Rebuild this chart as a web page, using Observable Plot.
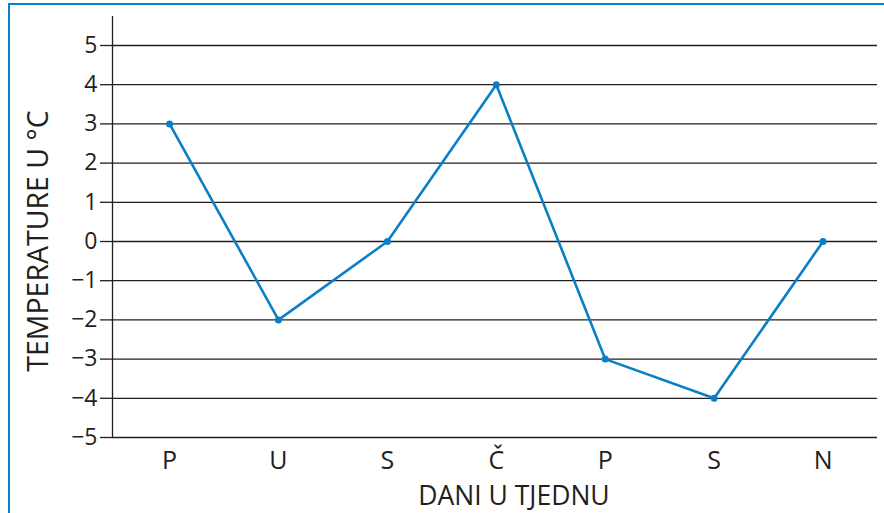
<!DOCTYPE html>
<html><head><meta charset="utf-8">
<script src="https://cdn.jsdelivr.net/npm/d3@7"></script>
<script src="https://cdn.jsdelivr.net/npm/@observablehq/plot@0.6"></script>
<style>
html,body{margin:0;padding:0;background:#fff;}
#wrap{position:relative;width:884px;height:513px;overflow:hidden;}
#border{position:absolute;left:8px;top:3px;right:-10px;bottom:-10px;border-top:2px solid #0a7fc8;border-left:2px solid #0a7fc8;pointer-events:none;}
</style></head>
<body><div id="wrap"><div id="border"></div></div>
<script>
const days = ["P","U","S","Č","P","S","N"];
const temps = [3,-2,0,4,-3,-4,0];
const yTicks = [-5,-4,-3,-2,-1,0,1,2,3,4,5];
const xTitle = "DANI U TJEDNU";
const yTitle = "TEMPERATURE U °C";

const data = days.map((d,i)=>({i, day:d, t:temps[i]}));
const xDomain = [-0.524, 6.5];
const yDomain = [-5, 5.74];
const lineColor = "#0a7fc8";
const ink = "#231f20";

const chart = Plot.plot({
  width: 884, height: 513,
  marginLeft: 112, marginRight: 7, marginTop: 16, marginBottom: 76,
  style: {fontFamily: "'Open Sans', sans-serif", fontSize: "20px", color: ink, background: "transparent"},
  x: {domain: xDomain},
  y: {domain: yDomain},
  marks: [
    Plot.gridY(yTicks, {stroke: ink, strokeOpacity: 1, strokeWidth: 1.3}),
    Plot.axisY(yTicks, {tickSize: 12, tickPadding: 3, fontSize: 23, stroke: ink, strokeWidth: 1.3,
      tickFormat: d => d < 0 ? "\u2212" + Math.abs(d) : String(d), label: null}),
    Plot.ruleX([xDomain[0]], {stroke: ink, strokeWidth: 1.3}),
    Plot.axisX(d3.range(days.length), {tickSize: 0, tickPadding: 14, fontSize: 25,
      tickFormat: i => days[i], label: null}),
    Plot.text([yTitle], {frameAnchor: "left", textAnchor: "middle", lineAnchor: "middle", dx: -74, dy: 14, rotate: -90, fontSize: 28.5, fill: ink}),
    Plot.text([xTitle], {frameAnchor: "bottom", textAnchor: "middle", lineAnchor: "middle", dx: 19, dy: 59, fontSize: 26.5, fill: ink}),
    Plot.line(data, {x: "i", y: "t", stroke: lineColor, strokeWidth: 2.6}),
    Plot.dot(data, {x: "i", y: "t", fill: lineColor, r: 3.5})
  ]
});
chart.style.position = "absolute";
chart.style.left = "0";
chart.style.top = "0";
document.getElementById("wrap").prepend(chart);
</script></body></html>
